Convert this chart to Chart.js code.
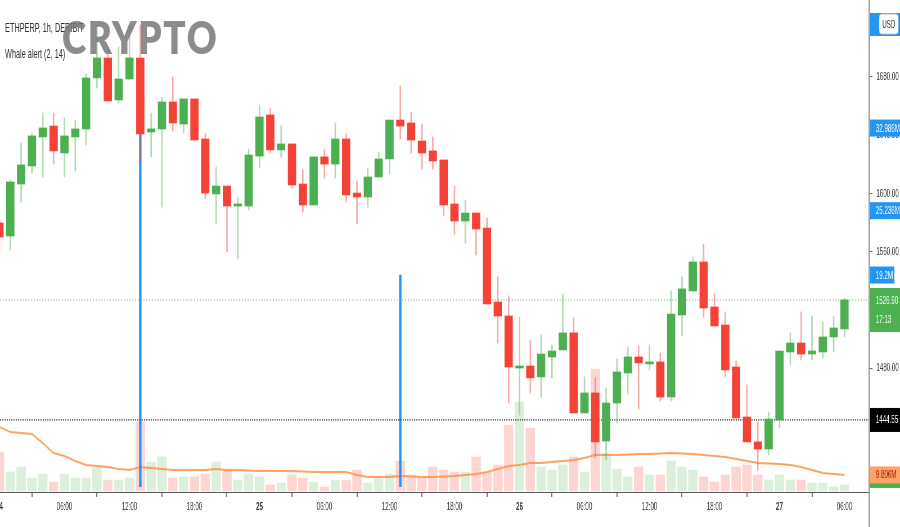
<!DOCTYPE html>
<html>
<head>
<meta charset="utf-8">
<script src="https://cdn.jsdelivr.net/npm/chart.js@4.4.0/dist/chart.umd.min.js"></script>
<style>
  html, body { margin: 0; padding: 0; background: #fff; overflow: hidden; }
  #page { position: relative; width: 900px; height: 527px; overflow: hidden; }
  /* the source screenshot is squeezed horizontally, so the chart is drawn wide and squeezed the same way */
  #wide { position: absolute; left: 0; top: 0; width: 1600px; height: 527px; transform: scaleX(0.5625); transform-origin: 0 0; }
  #wide canvas { display: block; }
  .legend { position: absolute; left: 9px; font: 13px "Liberation Sans", Arial, sans-serif; color: #2e2e2e; white-space: nowrap; }
  #mark { position: absolute; left: 62px; top: 14px; font: 800 46px Lato, "Open Sans", sans-serif; line-height: 46px; letter-spacing: 2px;
          color: rgba(115, 115, 115, 0.82); transform: scaleX(0.8); transform-origin: 0 0; white-space: nowrap; }
</style>
</head>
<body>
<div id="page">
  <div id="wide">
    <canvas id="chart" width="1600" height="527"></canvas>
    <div class="legend" style="top:20px">ETHPERP, 1h, DERIBIT</div>
    <div class="legend" style="top:46px">Whale alert (2, 14)</div>
  </div>
  <div id="mark">CRYPTO</div>
</div>
<script>
// --- DATA (1h candles, hour 0 = 24th 00:00) ---
const hours = Array.from({ length: 79 }, (_, i) => i);

const open = [1579.8, 1570.8, 1606.5, 1618.9, 1638.8, 1646.3, 1627.8, 1638.8, 1644.3, 1679.3,
  1693.0, 1664.2, 1678.6, 1693.0, 1642.2, 1644.3, 1662.8, 1647.7, 1664.9, 1637.4,
  1599.7, 1605.1, 1591.4, 1591.4, 1625.7, 1653.9, 1629.9, 1634.0, 1606.5, 1592.1,
  1625.1, 1620.2, 1637.4, 1600.3, 1597.6, 1611.3, 1623.7, 1650.4, 1648.4, 1636.0,
  1629.2, 1623.0, 1592.8, 1581.1, 1586.6, 1576.3, 1525.5, 1515.9, 1480.2, 1481.6,
  1474.1, 1487.8, 1492.6, 1504.3, 1449.4, 1463.1, 1430.1, 1456.2, 1476.8, 1487.8,
  1483.0, 1484.4, 1460.3, 1516.6, 1533.1, 1553.0, 1522.1, 1509.7, 1480.9, 1446.6,
  1429.5, 1424.6, 1444.5, 1491.2, 1497.4, 1489.8, 1491.2, 1501.5, 1507.0];

const high = [1581.8, 1609.3, 1634.7, 1641.5, 1655.2, 1655.2, 1651.8, 1650.4, 1682.0, 1715.6,
  1700.5, 1700.5, 1715.6, 1715.6, 1655.2, 1666.2, 1680.0, 1664.9, 1664.9, 1641.5,
  1618.2, 1605.1, 1597.6, 1630.5, 1660.7, 1658.7, 1646.3, 1634.0, 1616.1, 1625.1,
  1630.5, 1648.4, 1640.8, 1608.6, 1617.5, 1628.5, 1650.4, 1673.8, 1655.9, 1647.7,
  1638.8, 1623.0, 1605.1, 1595.5, 1586.6, 1583.2, 1542.7, 1529.7, 1515.2, 1499.5,
  1502.9, 1496.0, 1531.0, 1514.6, 1474.1, 1473.4, 1466.5, 1486.4, 1494.6, 1495.3,
  1496.0, 1490.5, 1533.1, 1542.7, 1556.4, 1565.3, 1531.0, 1518.7, 1485.0, 1468.6,
  1443.2, 1450.0, 1491.9, 1504.3, 1518.7, 1515.9, 1511.8, 1515.9, 1528.3];

const low = [1561.2, 1561.2, 1594.2, 1614.1, 1611.3, 1620.2, 1611.3, 1615.4, 1633.3, 1672.4,
  1663.5, 1662.1, 1677.9, 1620.9, 1625.1, 1590.7, 1642.9, 1641.5, 1636.7, 1596.2,
  1579.1, 1559.9, 1555.0, 1588.7, 1617.5, 1627.8, 1625.1, 1603.8, 1587.3, 1592.1,
  1610.6, 1610.6, 1594.2, 1579.1, 1590.7, 1611.3, 1613.4, 1637.4, 1627.8, 1616.8,
  1616.8, 1584.6, 1572.2, 1566.0, 1557.8, 1524.2, 1497.4, 1456.2, 1448.0, 1463.1,
  1460.3, 1473.4, 1492.6, 1449.4, 1449.4, 1418.5, 1417.1, 1442.5, 1462.4, 1452.1,
  1478.9, 1457.6, 1457.6, 1502.2, 1533.1, 1515.2, 1509.1, 1474.1, 1445.9, 1429.5,
  1410.2, 1420.5, 1439.1, 1482.3, 1485.7, 1485.7, 1487.1, 1491.2, 1501.5];

const close = [1570.1, 1607.9, 1619.6, 1639.5, 1645.0, 1629.2, 1639.5, 1644.3, 1679.3, 1693.0,
  1663.5, 1678.6, 1693.0, 1640.8, 1644.3, 1662.8, 1648.4, 1664.9, 1636.7, 1600.3,
  1605.1, 1591.4, 1592.8, 1626.4, 1652.5, 1629.9, 1634.0, 1605.8, 1592.1, 1625.1,
  1620.2, 1637.4, 1599.0, 1597.6, 1611.3, 1623.7, 1650.4, 1646.3, 1636.7, 1627.8,
  1622.3, 1592.1, 1581.1, 1586.6, 1575.6, 1524.2, 1515.9, 1480.9, 1481.6, 1473.4,
  1489.8, 1491.9, 1504.3, 1449.4, 1463.1, 1429.5, 1456.2, 1477.5, 1487.8, 1483.7,
  1484.4, 1460.3, 1517.3, 1534.5, 1553.0, 1521.4, 1509.1, 1478.9, 1445.9, 1429.5,
  1424.6, 1445.2, 1491.9, 1497.4, 1489.8, 1491.9, 1501.5, 1507.7, 1526.9];

// volume in millions, and its moving average
const volume = [23.8, 11.6, 14.7, 7.9, 10.4, 5.5, 10.4, 7.9, 7.9, 14.7,
  6.7, 6.7, 7.9, 42.2, 17.7, 20.8, 7.9, 8.6, 8.6, 10.4,
  17.7, 12.8, 6.7, 10.4, 8.6, 3.7, 4.9, 9.8, 7.9, 5.5,
  2.4, 6.7, 6.7, 12.8, 4.9, 7.9, 10.4, 18.3, 9.8, 7.9,
  14.7, 12.8, 11.6, 11.6, 20.8, 11.6, 15.9, 40.3, 54.4, 38.5,
  14.7, 12.8, 15.9, 20.8, 11.6, 74.5, 23.2, 13.4, 8.6, 14.7,
  9.8, 9.8, 18.3, 14.7, 12.8, 8.6, 5.5, 9.8, 14.7, 15.9,
  9.8, 6.7, 9.8, 6.7, 6.7, 4.9, 4.9, 2.4, 3.7];

const volumeMA = [39.1, 36.0, 35.4, 34.8, 29.3, 23.2, 21.4, 18.3, 15.9, 15.3,
  14.7, 13.4, 12.8, 14.7, 14.0, 13.4, 12.8, 12.8, 12.8, 12.8,
  13.4, 12.8, 12.8, 12.5, 12.2, 12.2, 12.2, 12.2, 11.9, 11.6,
  11.6, 11.6, 11.6, 9.8, 8.6, 8.6, 8.6, 9.2, 8.9, 8.6,
  8.6, 8.9, 9.2, 9.8, 10.4, 11.6, 13.4, 15.3, 15.9, 17.1,
  17.1, 17.7, 18.3, 18.9, 20.2, 22.0, 22.0, 22.0, 22.3, 22.6,
  22.6, 22.9, 23.2, 22.9, 22.6, 22.0, 21.4, 20.8, 19.5, 18.3,
  17.1, 16.8, 16.5, 15.9, 14.7, 12.8, 11.0, 10.4, 9.806];

// whale alert spikes (hour, size in M) and its levels shown on the axis
const whaleHours = [13, 37];
const whaleValues = [32.986, 19.2];
const whaleLevels = [32.986, 25.236, 19.2];

const lastPrice = 1526.90;
const levelPrice = 1444.55;
const countdown = '17:13';

const xTickHours = [0, 6, 12, 18, 24, 30, 36, 42, 48, 54, 60, 66, 72, 78];
const xTickLabels = ['24', '06:00', '12:00', '18:00', '25', '06:00', '12:00', '18:00', '26', '06:00', '12:00', '18:00', '27', '06:00'];
const dayLabels = ['24', '25', '26', '27'];
const yTicks = [1480, 1520, 1560, 1600, 1640, 1680];

// --- STYLE ---
const UP = '#4caf50', DOWN = '#f44336';
const UP_WICK = 'rgba(76,175,80,0.45)', DOWN_WICK = 'rgba(244,67,54,0.45)';
const UP_VOL = 'rgba(76,175,80,0.2)', DOWN_VOL = 'rgba(244,67,54,0.22)';
const BLUE = '#2196f3';
const FONT = '"Liberation Sans", Arial, sans-serif';
const X_MIN = 0.05, X_MAX = 80.27;

const isUp = i => close[i] >= open[i];

const tagPlugin = {
  id: 'axisTags',
  afterDraw(chart) {
    const { ctx, chartArea: a, scales } = chart;
    const L = a.right + 2, R = chart.width;
    ctx.save();
    // price axis line runs on through the time axis
    ctx.strokeStyle = '#8a8a8a';
    ctx.lineWidth = 2;
    ctx.beginPath();
    ctx.moveTo(a.right, a.bottom);
    ctx.lineTo(a.right, chart.height);
    ctx.stroke();

    ctx.font = '11px ' + FONT;
    ctx.textBaseline = 'middle';
    const tag = (yc, h, bg, text, fg, right) => {
      ctx.fillStyle = bg;
      ctx.fillRect(L, yc - h / 2, (right || R) - L, h);
      ctx.fillStyle = fg;
      ctx.fillText(text, L + 10, yc + 0.5);
    };

    // USD button
    ctx.fillStyle = BLUE;
    ctx.fillRect(L, 13, R - L, 23);
    ctx.fillStyle = '#fff';
    ctx.strokeStyle = '#c8c8c8';
    ctx.lineWidth = 1;
    ctx.beginPath();
    ctx.roundRect(1563, 14, 34, 20, 4);
    ctx.fill();
    ctx.stroke();
    ctx.fillStyle = '#333';
    ctx.textAlign = 'center';
    ctx.fillText('USD', 1580, 24.5);
    ctx.textAlign = 'left';

    whaleLevels.forEach(v => {
      const narrow = String(v).length < 5;
      tag(scales.w.getPixelForValue(v), 17, BLUE, v + 'M', '#fff', narrow ? 1590 : R);
    });

    // last price + countdown
    const yp = scales.y.getPixelForValue(lastPrice);
    ctx.fillStyle = UP;
    ctx.fillRect(L, yp - 12, R - L, 44);
    ctx.fillStyle = '#fff';
    ctx.fillText(lastPrice.toFixed(2), L + 10, yp + 0.5);
    ctx.fillText(countdown, L + 10, yp + 20);

    tag(scales.y.getPixelForValue(levelPrice), 24, '#000', levelPrice.toFixed(2), '#fff');

    const last = volume.length - 1;
    const yv = scales.v.getPixelForValue(volumeMA[last]);
    ctx.fillStyle = isUp(last) ? UP : DOWN;
    ctx.fillRect(L, yv + 4, R - L, 9);
    tag(yv, 17, '#ffa265', volumeMA[last] + 'M', '#b3140c');
    ctx.restore();
  }
};

const ctx = document.getElementById('chart').getContext('2d');
new Chart(ctx, {
  type: 'bar',
  data: {
    datasets: [
      {
        label: 'body', order: 1, yAxisID: 'y', grouped: false, barThickness: 14, minBarLength: 1,
        data: hours.map(i => ({ x: i, y: [open[i], close[i]] })),
        backgroundColor: hours.map(i => isUp(i) ? UP : DOWN)
      },
      {
        label: 'wick', order: 2, yAxisID: 'y', grouped: false, barThickness: 2,
        data: hours.map(i => ({ x: i, y: [low[i], high[i]] })),
        backgroundColor: hours.map(i => isUp(i) ? UP_WICK : DOWN_WICK)
      },
      {
        type: 'line', label: 'last', order: 3, yAxisID: 'y',
        data: [{ x: X_MIN, y: lastPrice }, { x: X_MAX, y: lastPrice }],
        borderColor: 'rgba(76,175,80,0.75)', borderWidth: 1, borderDash: [2, 3], pointRadius: 0
      },
      {
        type: 'line', label: 'level', order: 3, yAxisID: 'y',
        data: [{ x: X_MIN, y: levelPrice }, { x: X_MAX, y: levelPrice }],
        borderColor: '#333', borderWidth: 1.3, borderDash: [2, 2], pointRadius: 0
      },
      {
        label: 'whale', order: 4, yAxisID: 'w', grouped: false, barThickness: 3.6,
        data: whaleHours.map((h, k) => ({ x: h, y: [-0.65, whaleValues[k]] })),
        backgroundColor: BLUE
      },
      {
        type: 'line', label: 'vol MA', order: 5, yAxisID: 'v',
        data: hours.map(i => ({ x: i, y: volumeMA[i] })),
        borderColor: 'rgba(255,140,60,0.8)', borderWidth: 2, pointRadius: 0, tension: 0
      },
      {
        label: 'volume', order: 6, yAxisID: 'v', grouped: false, barThickness: 16,
        data: hours.map(i => ({ x: i, y: volume[i] })),
        backgroundColor: hours.map(i => isUp(i) ? UP_VOL : DOWN_VOL)
      }
    ]
  },
  options: {
    responsive: false,
    devicePixelRatio: 1,
    animation: false,
    layout: { padding: 0 },
    plugins: { legend: { display: false }, tooltip: { enabled: false } },
    scales: {
      x: {
        type: 'linear', min: X_MIN, max: X_MAX, offset: false,
        afterBuildTicks: s => { s.ticks = xTickHours.map(v => ({ value: v })); },
        afterFit: s => { s.height = 35; s.paddingLeft = 0; s.paddingRight = 0; },
        ticks: {
          autoSkip: false, maxRotation: 0, padding: 3, color: '#333',
          callback: (v, i) => xTickLabels[i],
          font: c => ({ family: FONT, size: 11, weight: c.tick && dayLabels.includes(c.tick.label) ? 'bold' : 'normal' })
        },
        grid: { drawOnChartArea: false, drawTicks: true, tickLength: 5, color: '#777', lineWidth: 2 },
        border: { display: true, color: '#555', width: 1 }
      },
      y: {
        type: 'linear', position: 'right', min: 1395.1, max: 1732.8,
        afterBuildTicks: s => { s.ticks = yTicks.map(v => ({ value: v })); },
        afterFit: s => { s.width = 55; s.paddingTop = 0; s.paddingBottom = 0; },
        ticks: { padding: 7, color: '#333', font: { family: FONT, size: 11 }, callback: v => v.toFixed(2) },
        grid: { drawOnChartArea: false, drawTicks: true, tickLength: 6, color: '#666', lineWidth: 1 },
        border: { display: true, color: '#8a8a8a', width: 2 }
      },
      v: { type: 'linear', display: false, min: -0.6, max: 300 },
      w: { type: 'linear', display: false, min: -1.15, max: 45.0 }
    }
  },
  plugins: [tagPlugin]
});
</script>
</body>
</html>
